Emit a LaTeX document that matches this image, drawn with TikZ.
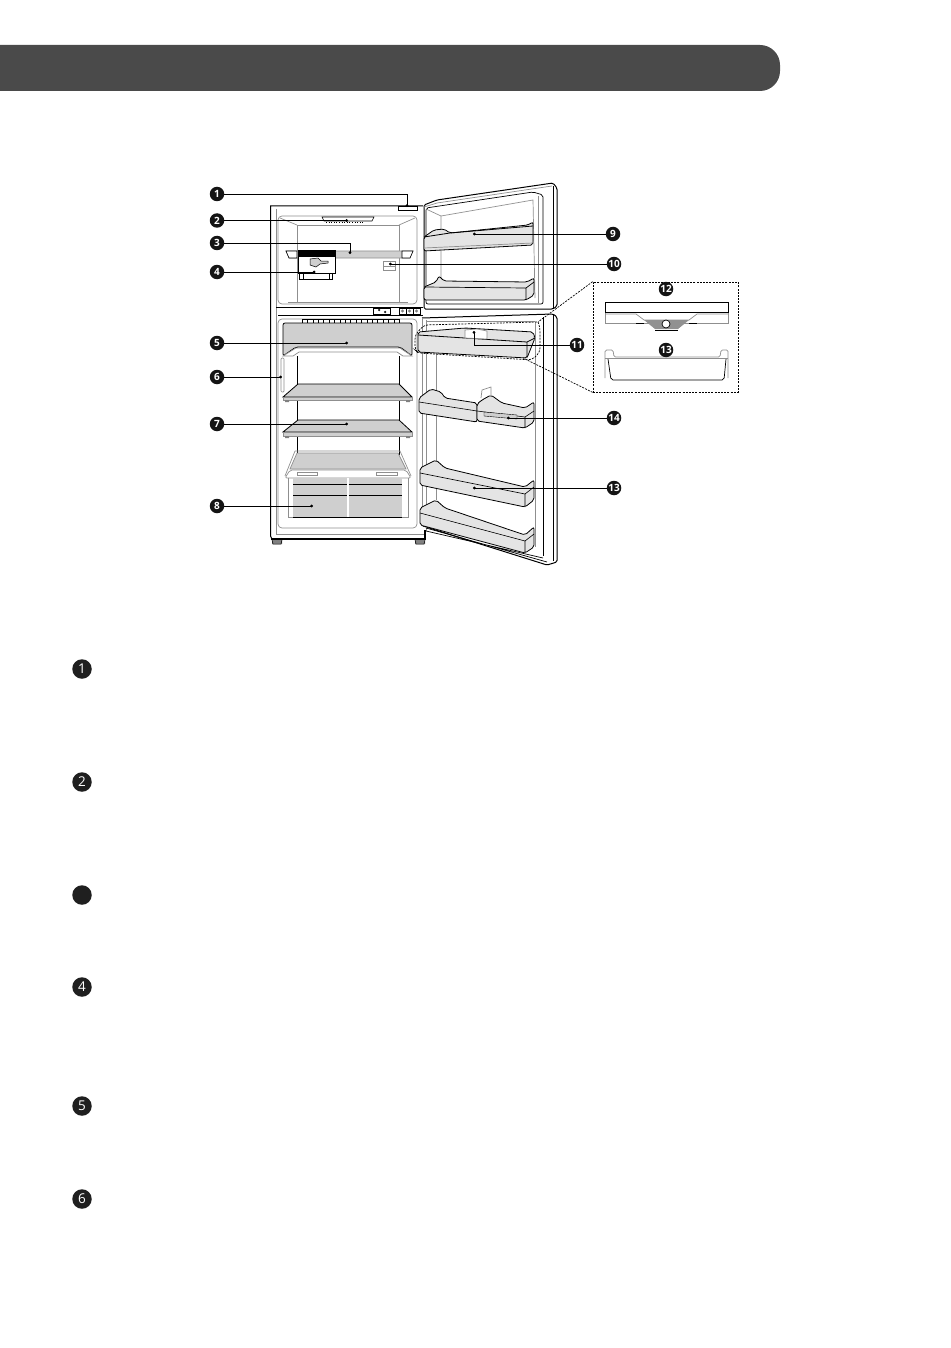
\documentclass[tikz,border=0pt]{standalone}
\usepackage{fontspec}
\setmainfont{Open Sans}
\usetikzlibrary{arrows.meta, calc}

\definecolor{barcol}{HTML}{4A4A4A}
\definecolor{panelcol}{HTML}{CFCFCF}
\definecolor{bincol}{HTML}{E4E4E4}
\definecolor{rimcol}{HTML}{8F8F8F}

\begin{document}
\begin{tikzpicture}[
  x=1pt, y=-1pt,
  badge/.style = {circle, fill=black!92, text=white, inner sep=0pt, minimum size=14.5pt, font=\fontsize{10}{10}\selectfont\bfseries},
  listbadge/.style = {circle, fill=black!88, text=white, inner sep=0pt, minimum size=19.5pt, font=\fontsize{13.5}{13.5}\selectfont},
  leader/.style = {line width=0.9pt, -{Circle[length=2.8pt]}},
  outline/.style = {draw=black, line width=1pt},
  thinrim/.style = {draw=rimcol, line width=0.7pt},
  bin/.style = {draw=black, line width=0.8pt, fill=bincol, rounded corners=2pt},
  shelfglass/.style = {draw=black, line width=0.8pt, fill=panelcol},
  zoomline/.style = {line width=0.7pt, dash pattern=on 2pt off 1.2pt}
]
\useasboundingbox (0,0) rectangle (950,1348);

% Header bar
\fill[barcol, rounded corners=20pt] (-30,45) -- (780,45) -- (780,91) -- (-30,91) -- cycle;

% Cabinet
\draw[outline] (282,539) -- (272,539) -- (270.5,536) -- (270.5,206) -- (423,206);
\draw[line width=1.4pt] (270.5,539) -- (425,539) -- (425,530);
\draw[thinrim] (276,209) -- (276,534) -- (424,534);
\fill[gray] (272,540) rectangle (282,544) (415,540) rectangle (425,544);
\draw[line width=0.5pt] (272,540) -- (273,544) -- (281,544) -- (282,540) (415,540) -- (416,544) -- (424,544) -- (425,540);
\draw[outline, fill=white] (398,207) rectangle (417,211);

% Freezer room
\draw[thinrim, rounded corners=4pt] (278,216) rectangle (417,304);
\draw[thinrim] (297,225) rectangle (399,302);
\draw[thinrim] (280,218) -- (297,225) (415,218) -- (399,225);
\draw[thinrim] (288,302) -- (408,302);
\draw[line width=0.6pt] (322,217) -- (374,217) -- (372,221) -- (324,221) -- cycle;
\draw[line width=0.6pt, dotted] (326,222) -- (364,222);

% Freezer shelf and ice box
\draw[thinrim, fill=panelcol] (286,251) -- (413,251) -- (410,258) -- (289,258) -- cycle;
\draw[line width=0.6pt, fill=white] (286,251) -- (297,251) -- (297,258) -- (289,258) -- cycle;
\draw[line width=0.6pt, fill=white] (413,251) -- (402,251) -- (402,258) -- (410,258) -- cycle;
\draw[outline, fill=white] (299,269) rectangle (332,279);
\draw[line width=0.6pt] (303,269) -- (303,279) (329,269) -- (329,279);
\draw[outline, fill=white] (298,251) rectangle (335,273);
\fill[black] (298,251) rectangle (335,256.5);
\draw[line width=0.5pt, fill=panelcol] (310,259) -- (318,258) -- (321,261) -- (328,261) -- (328,263) -- (320,264) -- (316,267) -- (310,265) -- cycle;
\draw[thinrim, fill=white] (383,261) rectangle (395,270);
\draw[thinrim] (383,266) -- (395,266);

% Divider and controls
\draw[outline] (276,307.5) -- (423,307.5);
\draw[outline] (278,315) -- (423,315);
\draw[line width=0.7pt] (373,308) rectangle (390,314);
\draw[line width=0.7pt] (399,308) rectangle (420,314);
\draw[line width=0.5pt] (406,308) -- (406,314) (413,308) -- (413,314);
\fill[gray] (402.5,311) circle (1.6) (409.5,311) circle (1.6) (416.5,311) circle (1.6);
\draw[line width=0.5pt] (379,310) circle (0.9) (385,312) circle (0.9);

% Fridge room
\draw[thinrim, rounded corners=4pt] (278,319) rectangle (417,528);
\draw[line width=0.9pt] (297,356) -- (297,455) (399,356) -- (399,455);
\foreach \tx in {302,307.4,...,395} {
  \draw[line width=0.5pt, fill=white] (\tx,319) rectangle ++(5.4,4);
}

% Top chiller drawer
\draw[shelfglass, rounded corners=2pt] (283,323) -- (412,323) -- (412,356) -- (400,347) -- (296,347) -- (283,356) -- cycle;
\draw[thinrim, fill=white] (283,356) -- (296,348) -- (400,348) -- (412,356) -- (403,356) -- (397,352) -- (299,352) -- (293,356) -- cycle;

% Glass shelves
\draw[shelfglass] (298,384) -- (399,384) -- (412,397) -- (283,397) -- cycle;
\draw[thinrim, fill=panelcol] (283,397) -- (412,397) -- (412,400) -- (283,400) -- cycle;
\draw[shelfglass] (298,420) -- (399,420) -- (412,432) -- (283,432) -- cycle;
\draw[thinrim, fill=panelcol] (283,432) -- (412,432) -- (412,436) -- (283,436) -- cycle;
\fill[gray] (285,400) rectangle (289,402) (406,400) rectangle (410,402) (285,436) rectangle (289,438) (406,436) rectangle (410,438);
\draw[thinrim, rounded corners=1pt] (281,358) rectangle (284,392);

% Crisper
\draw[thinrim, fill=panelcol] (297,453) -- (398,453) -- (406,469) -- (290,469) -- cycle;
\draw[thinrim, rounded corners=2pt, fill=white] (290,470) -- (406,470) -- (411,478) -- (285,478) -- cycle;
\draw[thinrim] (295,451) -- (400,451) -- (411,476) (295,451) -- (285,476);
\draw[thinrim, fill=white] (297,472) rectangle (317,475) (376,472) rectangle (397,475);
\draw[thinrim] (288,478) -- (288,517) -- (408,517) -- (408,478);
\fill[panelcol] (293,478) rectangle (402,516.5);
\fill[white] (346.8,478) rectangle (348.6,517);
\draw[line width=0.8pt] (293,484.5) -- (346.8,484.5) (348.6,484.5) -- (402,484.5);
\draw[line width=0.8pt] (293,495.5) -- (346.8,495.5) (348.6,495.5) -- (402,495.5);
\draw[line width=0.6pt] (293,517) -- (402,517);

% Freezer door
\draw[outline, rounded corners=1.5pt] (424,205) -- (437,200) -- (553,183) -- (557,188) -- (557,306) -- (553,309) -- (424,309) -- cycle;
\draw[thinrim] (424,207) -- (437,203) -- (552,186);
\draw[line width=0.7pt, rounded corners=2pt] (426,208) -- (533,192) -- (543,195) -- (543,304) -- (426,304) -- cycle;
\draw[line width=0.8pt] (553,186) -- (553,308);
\draw[thinrim] (441,216) -- (533,200) -- (535,298);
\draw[thinrim] (538,196) -- (538,303);
\draw[thinrim] (426,209) -- (441,216) -- (441,282);
\draw[bin] (424,237) -- (434,230) -- (444,229) -- (450,233) -- (528,225) -- (533,222) -- (533,245) -- (424,251) -- cycle;
\draw[line width=0.8pt] (424,237) -- (450,233) -- (533,226);
\draw[thinrim] (424,248) -- (533,243);
\draw[bin] (424,287) -- (436,282) -- (439,276) -- (444,281) -- (527,282) -- (534,278) -- (534,295) -- (526,300) -- (424,300) -- cycle;
\draw[line width=0.7pt] (424,287) -- (526,288) -- (534,282) (526,288) -- (526,300);

% Fridge door
\draw[outline, rounded corners=1.5pt] (422,318) -- (553,314) -- (557,317) -- (557,562) -- (547,565) -- (423,526);
\draw[line width=0.8pt] (553,315) -- (553,561);
\draw[thinrim] (422,318) -- (422,526) (426,320) -- (426,531);
\draw[line width=0.7pt] (543,317) -- (543,556);
\draw[thinrim] (535,322) -- (535,547) (426,321) -- (535,321);
\draw[thinrim] (436,340) -- (436,500);
\draw[line width=0.7pt] (426,531) -- (543,558) (426,528) -- (547,562);

% Door bins
\draw[bin] (418,332) -- (465,328) -- (533,332) -- (535,338) -- (527,358) -- (418,352) -- cycle;
\draw[line width=0.8pt] (418,335) -- (527,342) -- (535,338) (527,342) -- (527,358);
\draw[thinrim, fill=white] (465,330) -- (477,329) -- (487,331) -- (487,339) -- (465,338) -- cycle;
\draw[bin] (419,398) -- (431,389) -- (441,392) -- (445,398) -- (477,403) -- (477,422) -- (419,413) -- cycle;
\draw[line width=0.6pt] (419,402) -- (477,411);
\draw[thinrim, fill=white] (481,398) -- (482,390) -- (491,387) -- (491,395);
\draw[bin] (477,404) -- (482,400) -- (491,395) -- (502,403) -- (525,408) -- (534,402) -- (534,422) -- (525,428) -- (477,421) -- cycle;
\draw[line width=0.6pt] (477,411) -- (525,417) -- (534,411) (525,417) -- (525,428);
\draw[line width=0.4pt, fill=panelcol] (484,412) -- (517,415) -- (517,419) -- (484,416) -- cycle;
\draw[bin] (420,468) -- (430,463) -- (436,460) -- (445,468) -- (525,487) -- (534,480) -- (534,500) -- (525,507) -- (420,485) -- cycle;
\draw[line width=0.6pt] (420,473) -- (525,494) -- (534,487) (525,494) -- (525,507);
\draw[bin] (420,508) -- (430,503) -- (436,500) -- (445,508) -- (525,535) -- (534,527) -- (534,547) -- (525,553) -- (420,525) -- cycle;
\draw[line width=0.6pt] (420,513) -- (525,541) -- (534,534) (525,541) -- (525,553);

% Dashed zoom frame
\node[draw, zoomline, minimum width=145pt, minimum height=110pt, inner sep=0pt] (zoombox) at (665.5,337) {};
\coordinate (ztop) at (538,322);
\coordinate (zbot) at (523,358);
\draw[zoomline] (zoombox.north west) -- (ztop);
\draw[zoomline] (zoombox.south west) -- (zbot);
\draw[zoomline, rounded corners=4pt] (ztop) -- (540,327) -- (540,352) -- (532,360) -- (418,353) -- (415,350) -- (415,335) -- (424,325) -- (538,322);

% Inset: fresh zone cover
\draw[outline, fill=white] (605,302) rectangle (728,312);
\draw[thinrim] (605,313) -- (605,323) -- (728,323) -- (728,313);
\draw[thinrim] (605,314) -- (636,314) -- (644,320) -- (689,320) -- (697,314) -- (728,314);
\fill[panelcol!70!black] (644,320) -- (689,320) -- (678,329) -- (655,329) -- cycle;
\draw[line width=0.5pt] (644,323) -- (636,323) (689,323) -- (697,323) (655,330) -- (678,330);
\draw[line width=0.7pt, fill=white] (666,324) circle (4);

% Inset: basket
\draw[thinrim, rounded corners=1.5pt] (605,378) -- (605,350) -- (613,350) -- (614,357) -- (720,357) -- (721,350) -- (728,350) -- (728,378);
\draw[line width=0.7pt, rounded corners=2pt] (608,359) -- (611,380) -- (724,380) -- (726,359);
\draw[thinrim] (605,358) -- (728,358);

% Numbered callouts
\foreach \bid/\bx/\by in {1/217/194, 2/217/220.5, 3/217/243, 4/217/272, 5/217/343, 6/217/377, 7/217/424, 8/217/506, 9/613/234, 10/614/264, 11/577/345, 12/666/289, 13/666/350, 14/614/418, 15/614/488} {
  \pgfmathtruncatemacro{\blabel}{\bid==15 ? 13 : \bid}
  \node[badge] (b\bid) at (\bx,\by) {\blabel};
}

\coordinate (t1) at (407,207);
\coordinate (t2) at (348,220.5);
\coordinate (t3) at (350,254);
\coordinate (t4) at (315.5,272);
\coordinate (t5) at (348,343);
\coordinate (t6) at (282,377);
\coordinate (t7) at (348,424);
\coordinate (t8) at (313,506);
\coordinate (t9) at (473,234);
\coordinate (t10) at (389,264);
\coordinate (t11) at (474,331);
\coordinate (t14) at (507,418);
\coordinate (t15) at (473,488);

\draw[leader] (b1) -| (t1);
\draw[leader] (b2) -- (t2);
\draw[leader] (b3) -| (t3);
\draw[leader] (b11) -| (t11);
\foreach \bid in {4,5,7,8,6,9,10,14,15} {
  \draw[leader] (b\bid) -- (t\bid);
}

% List badges
\foreach \lid/\ly/\ltext in {1/669/1, 2/782/2, 3/895/{}, 4/987/4, 5/1106/5, 6/1199/6} {
  \node[listbadge] (item\lid) at (82,\ly) {\ltext};
}
\end{tikzpicture}
\end{document}
